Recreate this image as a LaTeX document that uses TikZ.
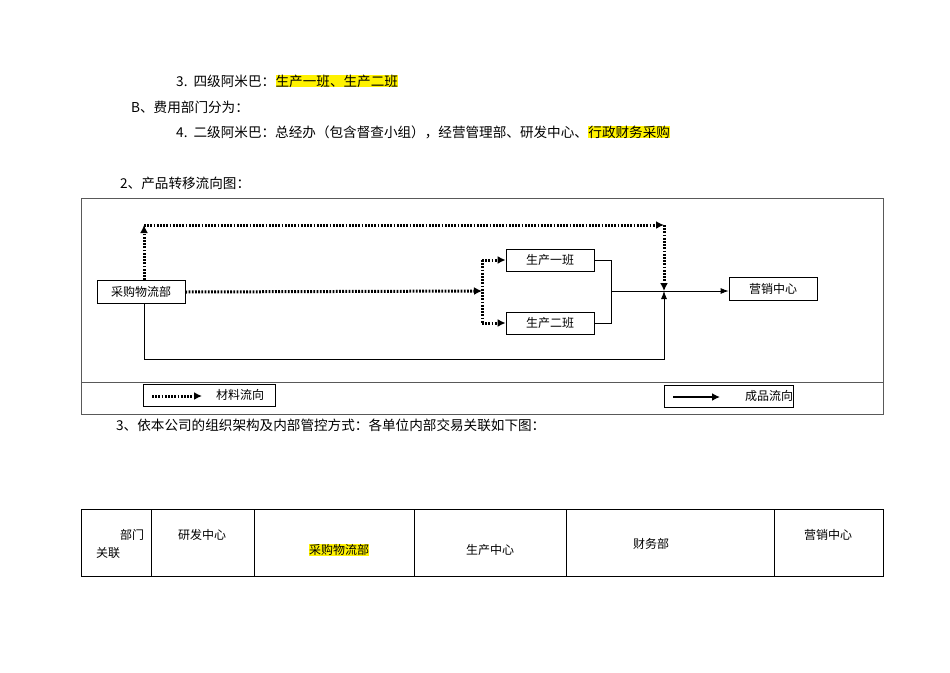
\documentclass[tikz,border=0pt]{standalone}
\usepackage{fontspec}
\newfontfamily\cjk{Noto Sans CJK SC}
\usetikzlibrary{arrows.meta}
\begin{document}
\begin{tikzpicture}[x=1pt,y=-1pt,
  every node/.style={font=\cjk\fontsize{12}{13}\selectfont,inner sep=0pt},
  txt/.style={anchor=west,font=\cjk\fontsize{13.6}{15}\selectfont},
  hl/.style={fill=yellow},
  box/.style={draw,thick,minimum width=88pt,minimum height=23pt},
  mat/.style={line width=3pt,dash pattern=on 1.8pt off 1.4pt,-{Latex[length=8pt,width=8pt]}},
  prod/.style={line width=0.8pt,-{Latex[length=8pt,width=6pt]}}]
\useasboundingbox (0,0) rectangle (950,672);
% top text
\node[txt] (t1) at (176,81) {3.\ \ 四级阿米巴：};
\node[txt,hl,anchor=west] (t1h) at (t1.east) {生产一班、生产二班};
\node[txt] (t2) at (131,107) {B、费用部门分为：};
\node[txt] (t3) at (176,132) {4.\ \ 二级阿米巴：总经办（包含督查小组），经营管理部、研发中心、};
\node[txt,hl,anchor=west] (t3h) at (t3.east) {行政财务采购};
\node[txt] (t4) at (120,183) {2、产品转移流向图：};
% frame
\draw[gray!70!black,thick] (81,198) rectangle (883,414);
\draw[gray!70!black,thick] (81,382) -- (883,382);
% boxes
\node[box] (cg) at (141,292) {采购物流部};
\node[box,minimum height=22pt] (s1) at (550,260) {生产一班};
\node[box,minimum height=22pt] (s2) at (550,323) {生产二班};
\node[box] (yx) at (773,288.5) {营销中心};
\coordinate (tl) at (144,225);
\coordinate (tr) at (664,225);
\coordinate (mj) at (664,291);
\coordinate (sp) at (482,291);
\coordinate (bl) at (144,359);
\coordinate (br) at (664,359);
\coordinate (rj) at (611,291);
% material flows
\draw[mat] (cg.north -| tl) -- (tl);
\draw[mat] (tl) -- (tr);
\draw[mat] (tr) -- (mj);
\draw[mat] (cg.east) -- (sp);
\draw[line width=3pt,dash pattern=on 1.8pt off 1.4pt] (sp |- s1.west) -- (sp |- s2.west);
\draw[mat] (sp |- s1.west) -- (s1.west);
\draw[mat] (sp |- s2.west) -- (s2.west);
% product flows
\draw[line width=0.8pt] (s1.east) -| (rj);
\draw[line width=0.8pt] (s2.east) -| (rj);
\draw[prod] (rj) -- (yx.west |- rj);
\draw[prod] (cg.south -| bl) |- (br) -- (mj);
% legend
\node[draw,thick,minimum width=132pt,minimum height=22pt] (lg1) at (209,395) {};
\draw[mat] (152,396) -- (202,396);
\node (lt1) at (240,395) {材料流向};
\node[draw,thick,minimum width=129pt,minimum height=22pt] (lg2) at (728.5,396) {};
\draw[line width=2.6pt,-{Latex[length=8pt,width=8pt]}] (673,397) -- (720,397);
\node (lt2) at (769,396) {成品流向};
\node[txt] (t5) at (116,425) {3、依本公司的组织架构及内部管控方式：各单位内部交易关联如下图：};
% table
\draw[thick] (81,509) rectangle (883,576);
\foreach \x in {151,254,414,566,774} \draw[thick] (\x,509) -- (\x,576);
\node (c1) at (132,535) {部门};
\node (c2) at (108,553) {关联};
\node (c3) at (202,535) {研发中心};
\node[hl] (c4) at (339,550) {采购物流部};
\node (c5) at (490,550) {生产中心};
\node (c6) at (651,544) {财务部};
\node (c7) at (828,535) {营销中心};
\end{tikzpicture}
\end{document}
